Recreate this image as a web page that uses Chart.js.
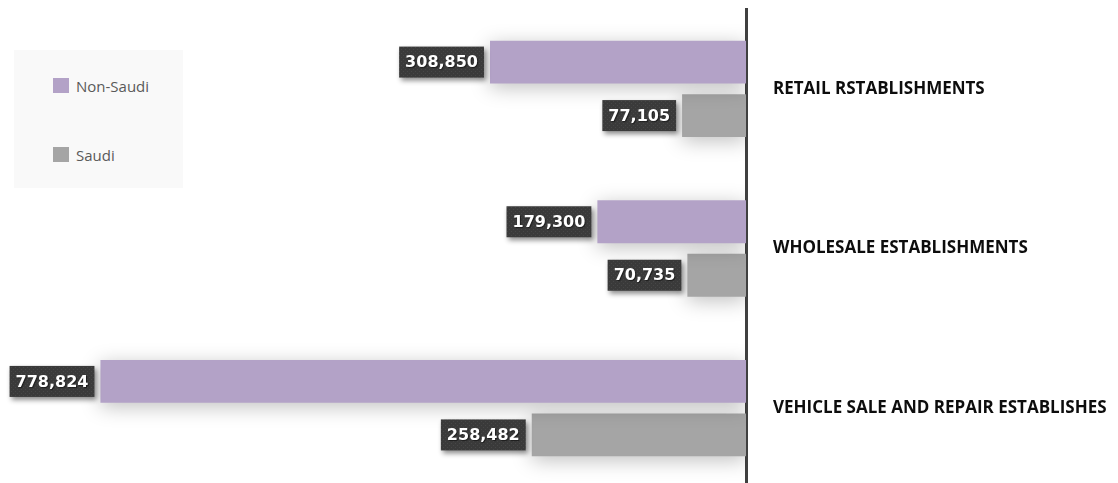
<!DOCTYPE html>
<html>
<head>
<meta charset="utf-8">
<script src="https://cdn.jsdelivr.net/npm/chart.js@4/dist/chart.umd.min.js"></script>
<style>
  html, body { margin: 0; padding: 0; background: #fff; overflow: hidden; width: 1118px; height: 483px; }
  #wrap { position: absolute; left: 0; top: 0; width: 1118px; height: 488px; }
  #legend { position: absolute; left: 14px; top: 50px; width: 169px; height: 138px; background: #f9f9f9; font-family: "Open Sans", sans-serif; font-size: 15px; color: #595959; }
  .item { position: absolute; left: 39px; height: 16px; line-height: 16px; white-space: nowrap; }
  .sw { display: inline-block; width: 16px; height: 15px; vertical-align: top; margin-right: 7px; margin-top: 0px; }
</style>
</head>
<body>
<div id="wrap"><canvas id="c"></canvas></div>
<div id="legend"></div>
<script>
const categories = ['RETAIL RSTABLISHMENTS', 'WHOLESALE ESTABLISHMENTS', 'VEHICLE SALE AND REPAIR ESTABLISHES'];
const seriesNames = ['Non-Saudi', 'Saudi'];
const nonSaudi = [308850, 179300, 778824];
const saudi = [77105, 70735, 258482];
const seriesColors = ['#b3a2c7', '#a5a5a5'];

// legend (HTML)
const legendEl = document.getElementById('legend');
const legendTops = [28, 97];
seriesNames.forEach((n, i) => {
  const d = document.createElement('div');
  d.className = 'item';
  d.style.top = legendTops[i] + 'px';
  d.innerHTML = '<span class="sw" style="background:' + seriesColors[i] + '"></span>' + n;
  legendEl.appendChild(d);
});

// textured dark pattern for labels
function makePattern(ctx) {
  const p = document.createElement('canvas');
  p.width = 4; p.height = 4;
  const pc = p.getContext('2d');
  pc.fillStyle = '#3a3a3a';
  pc.fillRect(0, 0, 4, 4);
  pc.fillStyle = '#474747';
  pc.fillRect(1, 1, 1, 1);
  pc.fillRect(3, 3, 1, 1);
  return ctx.createPattern(p, 'repeat');
}

const shadowPlugin = {
  id: 'barShadow',
  beforeDatasetDraw(chart) {
    const ctx = chart.ctx;
    ctx.save();
    ctx.shadowColor = 'rgba(0,0,0,0.25)';
    ctx.shadowBlur = 20;
    ctx.shadowOffsetX = 0;
    ctx.shadowOffsetY = 4;
  },
  afterDatasetDraw(chart) {
    chart.ctx.restore();
  }
};

const fmt = v => v.toLocaleString('en-US');

const labelPlugin = {
  id: 'boxLabels',
  afterDatasetsDraw(chart) {
    const ctx = chart.ctx;
    const pat = makePattern(ctx);
    chart.data.datasets.forEach((ds, di) => {
      const meta = chart.getDatasetMeta(di);
      meta.data.forEach((el, i) => {
        const txt = fmt(ds.data[i]);
        ctx.save();
        ctx.font = 'bold 16px "DejaVu Sans"';
        const tw = ctx.measureText(txt).width;
        const bw = tw + 12, bh = 31;
        const right = el.x - 6;
        const left = right - bw;
        const top = el.y - bh / 2;
        ctx.shadowColor = 'rgba(0,0,0,0.45)';
        ctx.shadowBlur = 5;
        ctx.shadowOffsetX = 2;
        ctx.shadowOffsetY = 3;
        ctx.fillStyle = pat;
        ctx.fillRect(left, top, bw, bh);
        ctx.shadowColor = 'rgba(0,0,0,0.5)';
        ctx.shadowBlur = 1;
        ctx.shadowOffsetX = 1;
        ctx.shadowOffsetY = 1;
        ctx.fillStyle = '#ffffff';
        ctx.textAlign = 'center';
        ctx.textBaseline = 'middle';
        ctx.fillText(txt, left + bw / 2, el.y + 1);
        ctx.restore();
      });
    });
  }
};

new Chart(document.getElementById('c'), {
  type: 'bar',
  data: {
    labels: categories,
    datasets: [
      { label: seriesNames[0], data: nonSaudi, backgroundColor: seriesColors[0] },
      { label: seriesNames[1], data: saudi, backgroundColor: seriesColors[1] }
    ]
  },
  plugins: [shadowPlugin, labelPlugin],
  options: {
    indexAxis: 'y',
    responsive: true,
    maintainAspectRatio: false,
    animation: false,
    layout: { padding: { top: 9, right: 0, bottom: 0, left: 0 } },
    datasets: { bar: { categoryPercentage: 0.67, barPercentage: 0.8 } },
    plugins: { legend: { display: false }, tooltip: { enabled: false } },
    scales: {
      x: { type: 'linear', reverse: true, min: 0, max: 900000, display: false },
      y: {
        position: 'right',
        grid: { display: false, drawTicks: false },
        border: { display: true, color: '#404040', width: 3 },
        ticks: { padding: 27, color: '#0d0d0d', font: { family: '"Open Sans"', weight: 'bold', size: 17 } },
        afterFit(scale) { scale.width = 372; scale.paddingTop = 0; scale.paddingBottom = 0; }
      }
    }
  }
});
</script>
</body>
</html>
